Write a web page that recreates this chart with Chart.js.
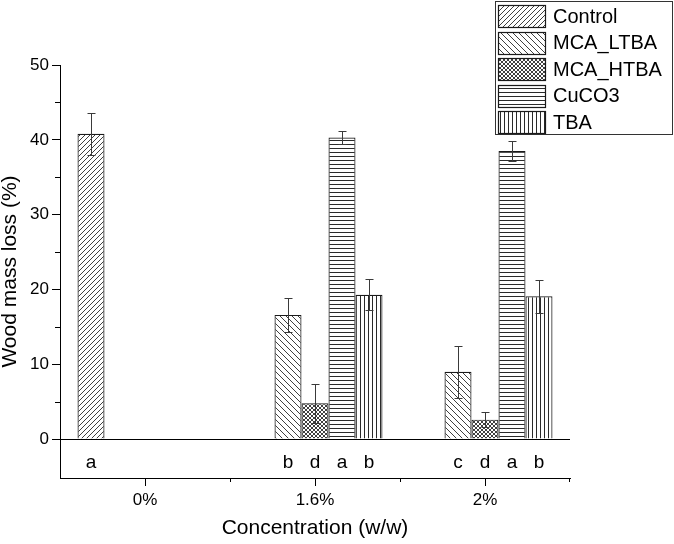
<!DOCTYPE html>
<html>
<head>
<meta charset="utf-8">
<script src="https://cdn.jsdelivr.net/npm/chart.js@4.4.0/dist/chart.umd.min.js"></script>
<style>
  body { margin: 0; background: #fff; }
  #wrap { width: 674px; height: 544px; }
</style>
</head>
<body>
<div id="wrap"><canvas id="mycanvas" width="674" height="544"></canvas></div>
<script>
// data
var categories = ['0%', '1.6%', '2%'];
var seriesNames = ['Control', 'MCA_LTBA', 'MCA_HTBA', 'CuCO3', 'TBA'];

var control    = [40.8, null, null];
var controlErr = [2.8, null, null];
var ltba       = [null, 16.6, 9.0];
var ltbaErr    = [null, 2.3, 3.5];
var htba       = [null, 4.8, 2.6];
var htbaErr    = [null, 2.6, 1.0];
var cuco3      = [null, 40.3, 38.5];
var cuco3Err   = [null, 0.9, 1.3];
var tba        = [null, 19.3, 19.1];
var tbaErr     = [null, 2.1, 2.2];

// significance letters under each bar
var controlSig = ['a', '', ''];
var ltbaSig    = ['', 'b', 'c'];
var htbaSig    = ['', 'd', 'd'];
var cuco3Sig   = ['', 'a', 'a'];
var tbaSig     = ['', 'b', 'b'];

var yTicks = [0, 10, 20, 30, 40, 50];
var yMinor = [5, 15, 25, 35, 45];

var FONT = '"Liberation Sans", Arial, sans-serif';

// hatch fills
function makePattern(kind) {
	var c = document.createElement('canvas');
	var s = 4;
	if (kind == 'fwd') s = 5;
	if (kind == 'back') s = 6;
	c.width = s; c.height = s;
	var g = c.getContext('2d');
	g.fillStyle = '#fff';
	g.fillRect(0, 0, s, s);
	g.strokeStyle = '#2a2a2a';
	g.fillStyle = '#2a2a2a';
	g.lineWidth = 0.9;
	if (kind == 'fwd') {
		g.beginPath();
		g.moveTo(-1, s + 1); g.lineTo(s + 1, -1);
		g.moveTo(-1, 1); g.lineTo(1, -1);
		g.moveTo(s - 1, s + 1); g.lineTo(s + 1, s - 1);
		g.stroke();
	} else if (kind == 'back') {
		g.beginPath();
		g.moveTo(-1, -1); g.lineTo(s + 1, s + 1);
		g.moveTo(-1, s - 1); g.lineTo(1, s + 1);
		g.moveTo(s - 1, -1); g.lineTo(s + 1, 1);
		g.stroke();
	} else if (kind == 'cross') {
		g.beginPath();
		g.moveTo(-1, -1); g.lineTo(s + 1, s + 1);
		g.moveTo(-1, s + 1); g.lineTo(s + 1, -1);
		g.stroke();
	} else if (kind == 'horiz') {
		g.fillRect(0, 0, s, 1);
	} else if (kind == 'vert') {
		g.fillRect(0, 0, 1, s);
	}
	return g.createPattern(c, 'repeat');
}

var fills = [makePattern('fwd'), makePattern('back'), makePattern('cross'), makePattern('horiz'), makePattern('vert')];
var values = [control, ltba, htba, cuco3, tba];
var errors = [controlErr, ltbaErr, htbaErr, cuco3Err, tbaErr];
var letters = [controlSig, ltbaSig, htbaSig, cuco3Sig, tbaSig];

var datasets = [];
for (var i = 0; i < seriesNames.length; i++) {
	datasets.push({
		label: seriesNames[i],
		data: values[i],
		backgroundColor: fills[i],
		borderColor: '#1a1a1a',
		borderWidth: 1.2,
		categoryPercentage: 0.794,
		barPercentage: 1.0
	});
}

// error bars, letters, minor ticks, legend
var extras = {
	id: 'extras',
	afterDatasetsDraw: function(chart) {
		var ctx = chart.ctx;
		var ys = chart.scales.y;
		ctx.save();
		ctx.strokeStyle = '#3a3a3a';
		ctx.lineWidth = 1;
		for (var d = 0; d < values.length; d++) {
			var meta = chart.getDatasetMeta(d);
			for (var i = 0; i < values[d].length; i++) {
				if (values[d][i] == null) continue;
				var x = Math.round(meta.data[i].x) + 0.5;
				var top = Math.round(ys.getPixelForValue(values[d][i] + errors[d][i])) + 0.5;
				var bot = Math.round(ys.getPixelForValue(values[d][i] - errors[d][i])) + 0.5;
				ctx.beginPath();
				ctx.moveTo(x, top); ctx.lineTo(x, bot);
				ctx.moveTo(x - 4, top); ctx.lineTo(x + 4, top);
				ctx.moveTo(x - 4, bot); ctx.lineTo(x + 4, bot);
				ctx.stroke();
			}
		}
		ctx.fillStyle = '#000';
		ctx.font = '19px ' + FONT;
		ctx.textAlign = 'center';
		ctx.textBaseline = 'alphabetic';
		for (var d = 0; d < letters.length; d++) {
			var meta = chart.getDatasetMeta(d);
			for (var i = 0; i < letters[d].length; i++) {
				if (!letters[d][i]) continue;
				ctx.fillText(letters[d][i], meta.data[i].x, ys.getPixelForValue(-3.9));
			}
		}
		ctx.restore();
	},
	afterDraw: function(chart) {
		var ctx = chart.ctx;
		var ys = chart.scales.y, xs = chart.scales.x;
		var area = chart.chartArea;
		ctx.save();
		ctx.strokeStyle = '#000';
		ctx.lineWidth = 1;
		ctx.beginPath();
		yMinor.forEach(function(v) {
			var y = Math.round(ys.getPixelForValue(v)) + 0.5;
			ctx.moveTo(area.left - 5, y); ctx.lineTo(area.left, y);
		});
		for (var i = 0; i < categories.length - 1; i++) {
			var x = Math.round((xs.getPixelForValue(i) + xs.getPixelForValue(i + 1)) / 2) + 0.5;
			ctx.moveTo(x, area.bottom); ctx.lineTo(x, area.bottom + 4);
		}
		ctx.moveTo(area.right - 0.5, area.bottom); ctx.lineTo(area.right - 0.5, area.bottom + 4);
		ctx.stroke();

		// legend box
		ctx.strokeStyle = '#333';
		ctx.strokeRect(495.5, 1.5, 177, 133);
		ctx.font = '20px ' + FONT;
		ctx.textAlign = 'left';
		ctx.textBaseline = 'middle';
		for (var k = 0; k < seriesNames.length; k++) {
			var sy = 5 + k * 26.5;
			ctx.fillStyle = fills[k];
			ctx.fillRect(498.5, Math.round(sy) + 0.5, 47, 22);
			ctx.strokeStyle = '#1a1a1a';
			ctx.lineWidth = 1.2;
			ctx.strokeRect(498.5, Math.round(sy) + 0.5, 47, 22);
			ctx.fillStyle = '#000';
			ctx.fillText(seriesNames[k], 553, sy + 12);
		}
		ctx.restore();
	}
};

var ctx = document.getElementById('mycanvas');
var barGraph = new Chart(ctx, {
	type: 'bar',
	data: { labels: categories, datasets: datasets },
	plugins: [extras],
	options: {
		responsive: false,
		animation: false,
		devicePixelRatio: 1,
		layout: { padding: { top: 65, right: 104, bottom: 0, left: 0 } },
		plugins: { legend: { display: false }, tooltip: { enabled: false } },
		scales: {
			x: {
				offset: true,
				grid: { offset: false, color: 'transparent', tickColor: '#000', tickLength: 8, lineWidth: 1 },
				border: { color: '#000', width: 1 },
				ticks: { color: '#000', font: { family: FONT, size: 17 }, padding: 4 },
				title: { display: true, text: 'Concentration (w/w)', color: '#000', font: { family: FONT, size: 21 }, padding: { top: 0, bottom: 3 } },
				afterFit: function(s) { s.height = 66; }
			},
			y: {
				min: -5.2,
				max: 50,
				afterBuildTicks: function(s) { s.ticks = yTicks.map(function(v) { return { value: v }; }); },
				grid: {
					color: function(c) { return c.tick && c.tick.value === 0 ? '#000' : 'transparent'; },
					tickColor: '#000', tickLength: 8, lineWidth: 1
				},
				border: { color: '#000', width: 1 },
				ticks: { color: '#000', font: { family: FONT, size: 17 }, padding: 3 },
				title: { display: true, text: 'Wood mass loss (%)', color: '#000', font: { family: FONT, size: 21, lineHeight: 1 }, padding: { top: 0, bottom: 0 } },
				afterFit: function(s) { s.width = 60; }
			}
		}
	}
});
</script>
</body>
</html>
